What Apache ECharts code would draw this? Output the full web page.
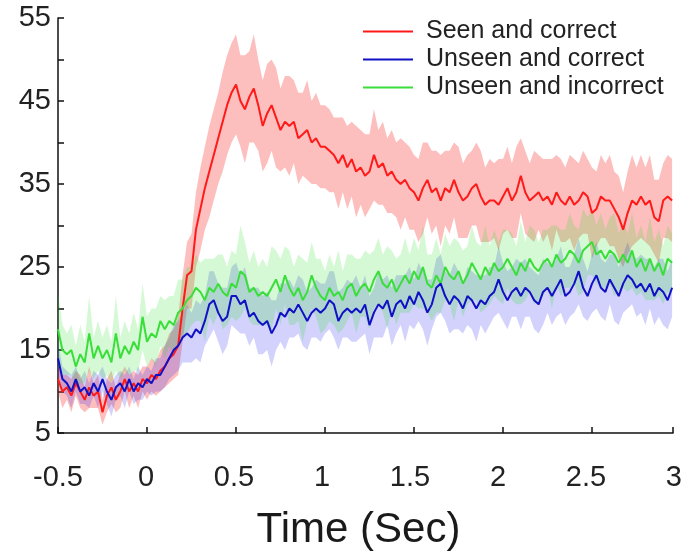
<!DOCTYPE html>
<html><head><meta charset="utf-8">
<script src="https://cdn.jsdelivr.net/npm/echarts@6/dist/echarts.min.js"></script>
<style>html,body{margin:0;padding:0;background:#fff}#c{width:685px;height:556px}</style>
</head><body><div id="c"></div>
<script>
// Sample grid: time (s) of the first sample and spacing between samples
const tStart = -0.5, tStep = 0.025;

const seriesNames = ['Seen and correct', 'Unseen and correct', 'Unseen and incorrect'];
const yTickLabels = [5, 15, 25, 35, 45, 55];
const xTickLabels = [-0.5, 0, 0.5, 1, 1.5, 2, 2.5, 3];

// Seen and correct (mean)
const seenCorrect = [
11.5,10.0,10.5,9.5,11.0,10.0,9.0,10.5,9.5,10.0,
7.5,9.5,10.5,9.0,10.0,11.5,10.0,11.0,10.0,11.5,
11.0,12.0,11.5,12.5,13.0,14.0,14.5,15.5,20.0,24.0,
24.5,29.5,32.0,34.5,36.5,38.5,40.5,42.5,44.5,46.0,
47.0,45.0,44.0,45.5,46.5,44.5,42.0,43.5,44.5,43.0,
41.5,42.5,42.0,42.5,40.5,41.0,41.5,40.0,40.5,39.5,
39.5,39.0,38.5,37.5,38.5,37.0,38.0,36.5,37.0,36.0,
36.5,38.5,37.0,37.5,36.0,36.5,35.5,35.0,35.5,34.5,
34.0,33.0,34.5,35.5,34.0,34.5,33.0,34.5,34.0,35.5,
34.0,33.0,33.5,34.5,35.0,33.5,32.5,33.0,33.0,32.5,
33.5,34.5,33.0,34.0,36.0,34.0,33.0,33.5,34.0,33.0,
33.5,32.5,34.0,33.0,32.5,33.5,32.5,33.0,34.0,33.5,
31.5,32.0,33.5,33.0,33.0,32.0,31.0,29.5,31.5,33.0,
32.5,33.5,32.5,33.0,31.0,30.5,33.0,33.5,33.0
];
const seenCorrectErr = [
1.5,2.0,1.5,2.0,1.5,2.0,1.5,2.5,1.5,2.0,
1.5,2.0,2.0,1.5,2.0,1.5,2.0,1.5,2.0,1.5,
2.0,2.0,2.0,2.5,2.5,3.0,3.0,3.5,4.0,4.0,
4.5,4.5,5.0,5.0,5.5,5.5,5.5,6.0,6.0,6.0,
6.0,5.5,6.5,5.5,6.5,5.5,5.5,6.0,5.5,6.0,
5.0,5.5,6.0,5.0,5.5,5.0,6.0,5.0,5.5,5.0,
5.0,5.0,4.5,5.5,4.5,5.0,4.5,5.5,4.5,5.0,
4.5,5.5,4.5,5.0,4.5,5.0,4.5,5.5,4.5,5.0,
4.5,5.0,5.5,4.5,5.0,4.5,5.5,4.5,5.0,4.5,
5.5,4.5,5.0,4.5,5.0,5.5,4.5,5.0,4.5,5.5,
4.5,5.0,4.5,5.5,4.5,5.0,4.5,5.5,4.5,5.0,
4.5,5.5,4.5,5.0,4.5,5.0,5.5,4.5,5.0,4.5,
5.5,4.5,5.0,4.5,5.5,4.5,5.0,4.5,5.0,5.5,
4.5,5.0,4.5,5.5,4.5,5.0,4.5,5.0,5.0
];

// Unseen and correct (mean)
const unseenCorrect = [
14.0,11.5,11.0,10.0,11.5,10.0,10.5,9.5,11.0,10.0,
11.5,10.0,9.0,10.5,11.0,10.0,11.5,10.0,11.0,10.5,
11.5,11.0,12.0,12.0,13.0,14.0,15.0,15.5,16.5,17.0,
16.5,17.5,17.0,18.5,20.5,21.0,19.5,18.5,19.0,21.5,
21.5,20.5,21.0,19.0,19.5,18.5,18.0,18.5,17.0,18.0,
19.5,19.0,20.0,19.5,20.5,19.5,18.5,19.5,20.0,19.5,
20.0,21.0,20.5,18.5,19.5,20.0,19.5,20.0,19.5,20.5,
18.0,19.5,20.5,20.0,21.0,19.0,20.5,21.0,20.0,21.5,
20.5,22.0,21.0,19.5,20.5,22.5,23.0,21.5,20.5,21.5,
21.0,20.0,21.5,21.0,20.0,21.0,20.5,21.5,22.0,23.5,
22.0,21.0,22.0,22.5,21.5,22.5,22.0,21.0,20.5,22.0,
22.5,21.5,22.5,23.5,21.5,22.0,23.0,24.5,22.5,21.5,
23.0,24.0,22.5,22.0,23.5,22.5,21.5,23.0,24.0,23.5,
22.5,23.0,22.0,23.0,21.5,22.5,22.0,21.0,22.5
];
const unseenCorrectErr = [
2.0,1.5,1.5,2.0,1.5,1.5,2.0,1.5,1.5,2.0,
1.5,1.5,2.0,1.5,1.5,2.0,1.5,1.5,2.0,1.5,
1.5,1.5,2.0,2.0,2.5,2.5,3.0,3.0,3.0,3.5,
3.0,3.5,3.5,3.0,4.0,3.5,3.5,4.0,3.5,3.5,
4.0,3.5,4.0,3.5,3.0,4.0,3.5,3.5,4.0,3.0,
3.5,4.0,3.5,3.0,3.5,4.0,3.5,3.0,3.5,3.5,
3.0,3.5,4.0,3.5,3.0,3.5,3.5,4.0,3.0,3.5,
3.5,3.0,4.0,3.5,3.0,3.5,3.5,3.0,4.0,3.5,
3.0,3.5,3.5,4.0,3.0,3.5,3.5,3.0,3.5,4.0,
3.5,3.0,3.5,3.5,4.0,3.0,3.5,3.5,3.0,4.0,
3.5,3.5,3.0,3.5,4.0,3.5,3.0,3.5,3.5,4.0,
3.0,3.5,3.5,4.0,3.5,3.0,3.5,4.0,3.5,3.0,
3.5,4.0,3.5,3.5,3.0,4.0,3.5,3.5,4.0,3.0,
3.5,3.5,4.0,3.0,3.5,3.5,4.0,3.5,3.5
];

// Unseen and incorrect (mean)
const unseenIncorrect = [
17.5,15.0,14.5,15.0,13.0,14.5,13.5,17.0,14.0,15.5,
14.0,15.0,13.5,17.0,14.0,15.5,14.5,16.0,15.0,19.0,
16.0,17.0,16.5,18.5,17.5,18.5,18.0,19.5,20.0,21.0,
21.5,22.5,22.0,21.0,22.5,22.0,23.0,22.0,21.5,23.0,
22.5,24.5,24.0,22.0,22.5,21.5,22.0,21.5,22.5,23.5,
22.0,24.0,22.5,21.5,22.5,21.0,22.0,24.0,22.5,21.5,
21.0,22.5,21.5,22.0,21.0,22.5,23.0,21.5,22.5,23.0,
22.0,23.5,24.5,23.0,22.5,23.5,22.0,23.0,24.0,23.0,
24.5,23.5,25.0,23.0,22.5,24.0,23.0,25.0,24.0,23.5,
24.5,23.0,24.0,25.5,24.5,23.5,25.0,24.0,25.5,24.5,
25.0,26.0,25.0,24.0,25.5,24.5,26.0,25.0,24.5,25.5,
26.0,25.0,26.5,25.5,26.0,27.0,26.5,25.5,27.0,27.5,
28.0,26.5,27.0,26.0,27.0,26.5,25.5,26.5,25.5,27.0,
25.0,26.0,24.5,26.0,24.5,25.5,24.0,26.0,25.5
];
const unseenIncorrectErr = [
4.5,3.0,2.5,3.0,2.5,3.5,2.5,4.5,2.5,3.0,
2.5,3.0,2.5,4.5,2.5,3.0,2.5,3.5,2.5,4.0,
3.0,3.0,3.5,3.0,3.5,3.0,3.5,4.0,3.5,4.0,
3.5,4.0,3.5,5.0,3.5,4.0,3.5,4.5,3.5,4.0,
4.0,5.5,4.0,3.5,4.5,3.5,4.0,3.5,5.0,3.5,
4.0,3.5,4.5,3.5,4.0,5.0,3.5,4.0,3.5,4.5,
3.5,4.0,3.5,5.0,3.5,4.0,3.5,4.5,3.5,4.0,
4.5,3.5,4.0,3.5,5.0,3.5,4.0,3.5,4.5,3.5,
4.0,3.5,5.0,3.5,4.0,4.5,3.5,4.0,3.5,5.0,
3.5,4.0,3.5,4.5,3.5,4.0,5.0,3.5,4.0,3.5,
4.5,3.5,4.0,3.5,5.0,3.5,4.0,4.5,3.5,4.0,
3.5,5.0,3.5,4.0,3.5,4.5,3.5,4.0,5.0,3.5,
4.0,3.5,4.5,3.5,4.0,5.0,3.5,4.0,3.5,4.5,
3.5,4.0,3.5,5.0,3.5,4.0,3.5,4.0,3.5
];

const times = seenCorrect.map((_, i) => +(tStart + i * tStep).toFixed(3));

const FONT = 'Liberation Sans, Arial, sans-serif';
const lineColors = ['#ff1a1a', '#1010c4', '#3ade3a'];
const bandColors = ['rgba(250,40,40,0.3)', 'rgba(30,30,240,0.2)', 'rgba(40,225,40,0.2)'];
const means = [seenCorrect, unseenCorrect, unseenIncorrect];
const errs = [seenCorrectErr, unseenCorrectErr, unseenIncorrectErr];

const series = [];
means.forEach((m, k) => {
  const e = errs[k];
  const bandData = times.map((t, i) => [t, m[i] - e[i], m[i] + e[i]]);
  series.push({
    name: 'band-' + k, type: 'custom', silent: true, z: 1,
    xAxisIndex: 0, yAxisIndex: 0,
    encode: { x: 0, y: [1, 2] },
    clip: true,
    data: bandData,
    renderItem: function (params, api) {
      if (params.dataIndex !== 0) return null;
      const upper = [], lower = [];
      for (let i = 0; i < bandData.length; i++) {
        upper.push(api.coord([bandData[i][0], bandData[i][2]]));
        lower.push(api.coord([bandData[i][0], bandData[i][1]]));
      }
      const pts = upper.concat(lower.reverse());
      return {
        type: 'polygon',
        shape: { points: pts },
        style: { fill: bandColors[k], stroke: null }
      };
    }
  });
});
[0, 2, 1].forEach(k => {
  series.push({
    name: seriesNames[k], type: 'line', symbol: 'none', z: 3,
    xAxisIndex: 0, yAxisIndex: 0,
    color: lineColors[k],
    lineStyle: { width: 2, color: lineColors[k] },
    data: times.map((t, i) => [t, means[k][i]])
  });
});

const chart = echarts.init(document.getElementById('c'), null, { renderer: 'canvas' });
chart.setOption({
  animation: false,
  backgroundColor: '#ffffff',
  textStyle: { fontFamily: FONT },
  grid: [
    { left: 58, right: 12, top: 18, bottom: 105 },
    { left: 58, right: 4, top: 18, bottom: 105 }
  ],
  legend: {
    data: seriesNames,
    orient: 'vertical',
    left: 358, top: 14,
    itemWidth: 50, itemHeight: 2, itemGap: 3,
    icon: 'rect',
    textStyle: { fontSize: 25, color: '#222', fontFamily: FONT, lineHeight: 24, padding: [0, 0, 0, 8] }
  },
  xAxis: [
    {
      gridIndex: 0, type: 'value', min: -0.5, max: 2.955, interval: 0.5,
      axisLine: { show: true, onZero: false, lineStyle: { color: '#111', width: 1.5 } },
      axisTick: { show: true, inside: true, length: 6, lineStyle: { color: '#111', width: 1.5 } },
      axisLabel: { show: false },
      splitLine: { show: false },
      name: 'Time (Sec)', nameLocation: 'middle', nameGap: 76,
      nameTextStyle: { fontSize: 42, color: '#1a1a1a', fontFamily: FONT, padding: [0, 14, 0, 0] }
    },
    {
      gridIndex: 1, type: 'value', min: -0.5, max: 3, interval: 0.5,
      axisLine: { show: false, onZero: false }, axisTick: { show: false }, splitLine: { show: false },
      axisLabel: {
        fontSize: 29, color: '#222', margin: 12, fontFamily: FONT,
        formatter: v => xTickLabels.some(x => Math.abs(x - v) < 1e-6) ? String(v) : ''
      }
    }
  ],
  yAxis: [
    {
      gridIndex: 0, type: 'value', min: 5, max: 55, interval: 5,
      axisLine: { show: true, onZero: false, lineStyle: { color: '#111', width: 1.5 } },
      axisTick: { show: true, inside: true, length: 6, lineStyle: { color: '#111', width: 1.5 } },
      axisLabel: {
        fontSize: 29, color: '#222', margin: 7, fontFamily: FONT,
        formatter: v => yTickLabels.includes(v) ? String(v) : ''
      },
      splitLine: { show: false }
    },
    { gridIndex: 1, type: 'value', min: 5, max: 55, show: false }
  ],
  series: series
});
</script>
</body></html>
